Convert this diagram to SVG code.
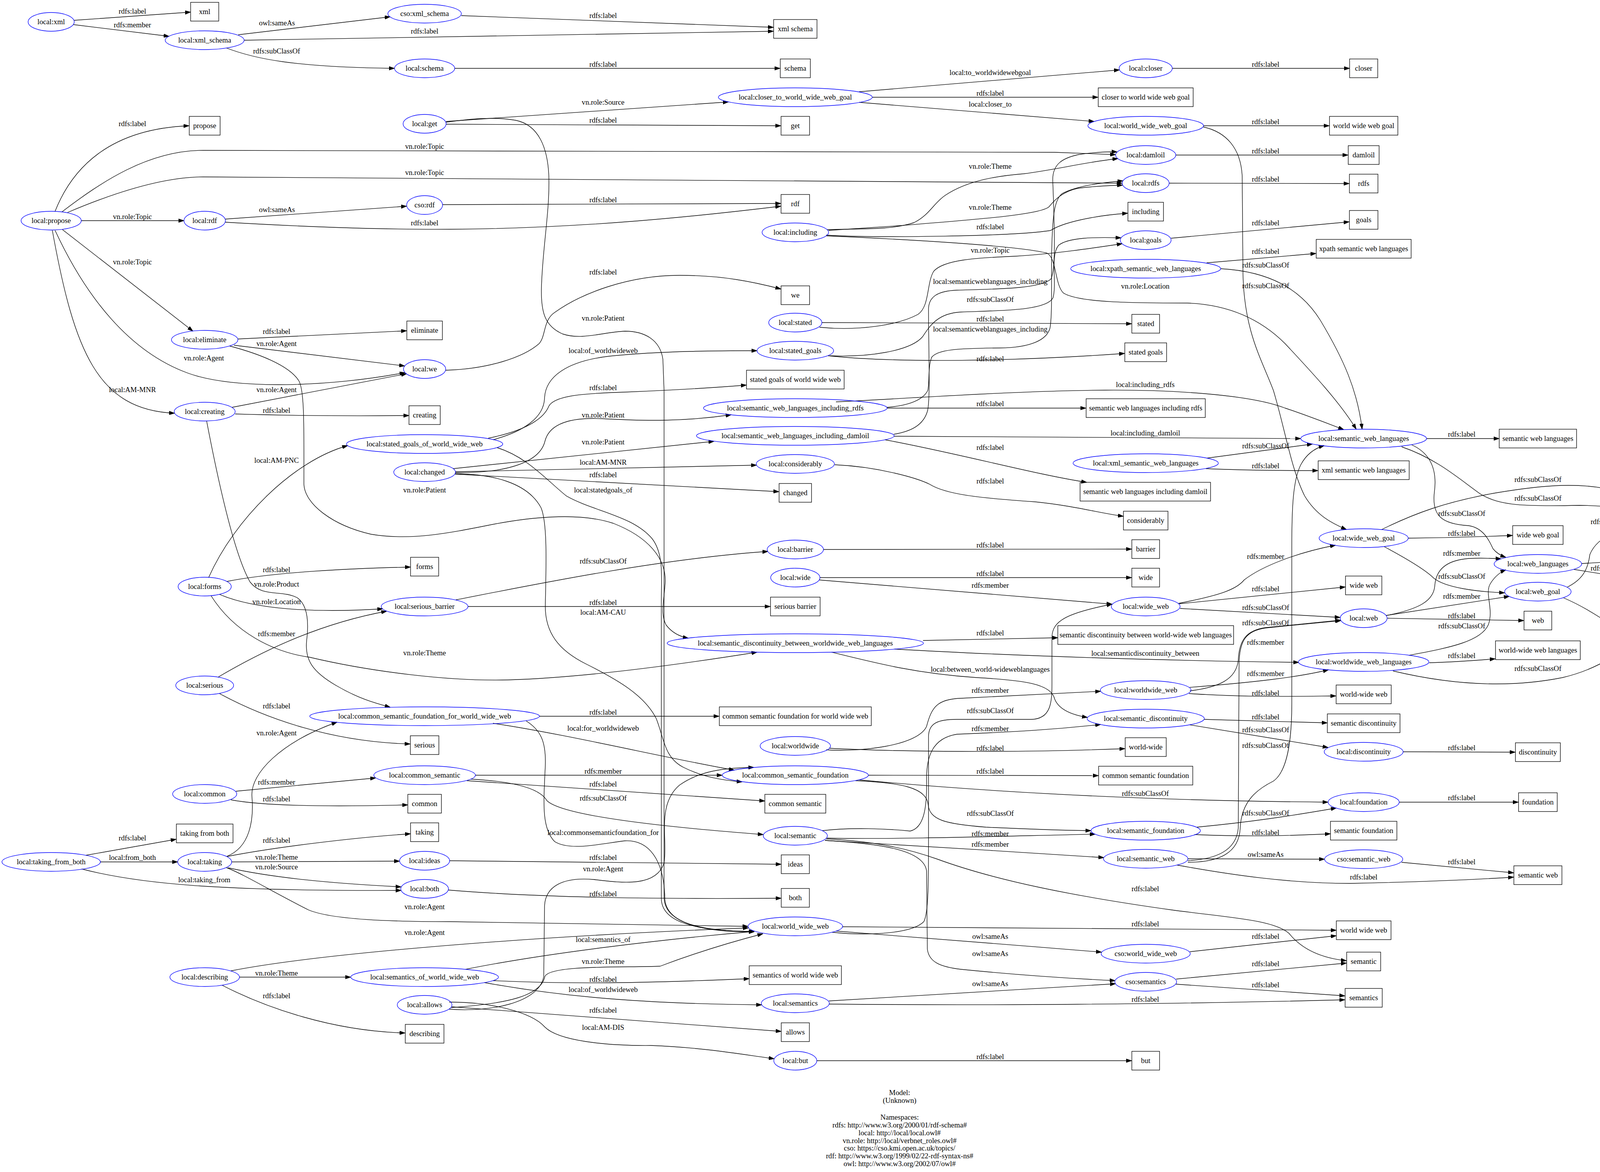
<svg xmlns="http://www.w3.org/2000/svg" width="4608" height="3001" viewBox="0 0 4608 3001">
<defs>
<style>
.n ellipse{fill:none;stroke:#0000ff;stroke-width:1.33}
.b rect{fill:none;stroke:#000;stroke-width:1.33}
text{font-family:"Liberation Serif","Times New Roman",serif;font-size:18.67px;text-anchor:middle;fill:#000}
#edges path{fill:none;stroke:#000;stroke-width:1.33;marker-end:url(#ah)}
</style>
<marker id="ah" viewBox="0 0 14 10" refX="14" refY="5" markerWidth="14" markerHeight="10" markerUnits="userSpaceOnUse" orient="auto"><path d="M0,0.3 L14,5 L0,9.7 Z" fill="#000" stroke="#000" stroke-width="1"/></marker>
</defs>
<rect x="0" y="0" width="4608" height="3001" fill="#fff"/>
<g id="edges">
<g><path d="M190,52 L488,31"/><text x="339" y="35">rdfs:label</text></g>
<g><path d="M188,63 L433,93"/><text x="339" y="70">rdfs:member</text></g>
<g><path d="M610,89 L999,43"/><text x="709" y="65">owl:sameAs</text></g>
<g><path d="M625,103 L1980,80"/><text x="1087" y="86">rdfs:label</text></g>
<g><path d="M1181,40 L1980,70"/><text x="1544" y="46">rdfs:label</text></g>
<g><path d="M580,123 C650,150 750,172 1010,175"/><text x="708" y="137">rdfs:subClassOf</text></g>
<g><path d="M1164,175 L1997,175"/><text x="1544" y="171">rdfs:label</text></g>
<g><path d="M141,541 C185,430 280,330 484,322"/><text x="339" y="323">rdfs:label</text></g>
<g><path d="M158,543 C260,465 380,385 520,385 L2700,390 L2856,396"/><text x="1087" y="381">vn.role:Topic</text></g>
<g><path d="M173,544 C300,490 420,453 520,453 L2873,469"/><text x="1087" y="448">vn.role:Topic</text></g>
<g><path d="M208,565 L471,565"/><text x="339" y="561">vn.role:Topic</text></g>
<g><path d="M577,561 L1041,528"/><text x="709" y="543">owl:sameAs</text></g>
<g><path d="M1133,524 L1999,521"/><text x="1544" y="518">rdfs:label</text></g>
<g><path d="M577,569 C800,582 1000,588 1152,587 C1500,585 1800,552 1999,528"/><text x="1087" y="577">rdfs:label</text></g>
<g><path d="M160,588 L494,848"/><text x="339" y="677">vn.role:Topic</text></g>
<g><path d="M609,868 L1041,847"/><text x="708" y="855">rdfs:label</text></g>
<g><path d="M599,884 L1036,937"/><text x="708" y="886">vn.role:Agent</text></g>
<g><path d="M141,590 C220,760 330,900 480,955 C600,1000 850,990 1037,954"/><text x="522" y="923">vn.role:Agent</text></g>
<g><path d="M134,590 C190,900 250,1050 447,1058"/><text x="339" y="1004">local:AM-MNR</text></g>
<g><path d="M220,2190 L451,2149"/><text x="339" y="2152">rdfs:label</text></g>
<g><path d="M256,2207 L455,2207"/><text x="339" y="2202">local:from_both</text></g>
<g><path d="M209,2225 C350,2262 550,2282 1027,2280"/><text x="523" y="2259">local:taking_from</text></g>
<g><path d="M588,886 C660,905 740,935 765,975 C780,1000 778,1100 778,1240 C780,1290 850,1345 950,1368 C1050,1385 1150,1365 1250,1345 C1350,1325 1480,1310 1570,1340 C1660,1375 1705,1430 1703,1490 C1700,1540 1690,1570 1705,1600 C1720,1620 1740,1630 1762,1634"/><text x="1087" y="1261">vn.role:Patient</text></g>
<g><path d="M594,1043 L1041,957"/><text x="708" y="1004">vn.role:Agent</text></g>
<g><path d="M602,1060 C800,1066 950,1065 1047,1064"/><text x="708" y="1057">rdfs:label</text></g>
<g><path d="M529,1078 C560,1240 600,1420 640,1490 C670,1530 720,1510 760,1530 C790,1550 790,1600 785,1640 C780,1690 800,1720 860,1755 C920,1790 960,1800 999,1811"/><text x="708" y="1502">vn.role:Product</text></g>
<g><path d="M580,1489 C700,1465 900,1455 1051,1452"/><text x="708" y="1465">rdfs:label</text></g>
<g><path d="M534,1479 C600,1330 750,1180 890,1141"/><text x="708" y="1185">local:AM-PNC</text></g>
<g><path d="M562,1522 C650,1560 800,1570 980,1559"/><text x="708" y="1547">vn.role:Location</text></g>
<g><path d="M540,1525 C600,1620 700,1670 793,1683 C950,1720 1150,1745 1300,1741 C1500,1735 1750,1700 1938,1670"/><text x="1087" y="1678">vn.role:Theme</text></g>
<g><path d="M558,1734 C650,1680 800,1600 990,1565"/><text x="708" y="1629">rdfs:member</text></g>
<g><path d="M562,1776 C680,1840 850,1900 1050,1905"/><text x="708" y="1814">rdfs:label</text></g>
<g><path d="M580,2193 C640,2170 650,2100 645,2040 C640,1980 720,1900 863,1849"/><text x="708" y="1883">vn.role:Agent</text></g>
<g><path d="M604,2026 L962,1992"/><text x="708" y="2009">rdfs:member</text></g>
<g><path d="M591,2048 C680,2065 850,2066 1044,2061"/><text x="708" y="2052">rdfs:label</text></g>
<g><path d="M582,2193 C700,2170 900,2145 1051,2135"/><text x="708" y="2158">rdfs:label</text></g>
<g><path d="M593,2207 L1023,2205"/><text x="708" y="2201">vn.role:Theme</text></g>
<g><path d="M584,2222 C700,2248 850,2262 1027,2271"/><text x="708" y="2226">vn.role:Source</text></g>
<g><path d="M580,2222 C620,2236 700,2285 790,2330 C850,2355 1000,2360 1152,2360 L1915,2372"/><text x="1087" y="2328">vn.role:Agent</text></g>
<g><path d="M591,2486 C800,2445 1300,2400 1916,2376"/><text x="1087" y="2394">vn.role:Agent</text></g>
<g><path d="M613,2502 L898,2502"/><text x="708" y="2498">vn.role:Theme</text></g>
<g><path d="M569,2523 C680,2580 850,2640 1037,2645"/><text x="708" y="2556">rdfs:label</text></g>
<g><path d="M1142,311 L1865,261"/><text x="1544" y="268">vn.role:Source</text></g>
<g><path d="M1142,318 L1999,322"/><text x="1544" y="314">rdfs:label</text></g>
<g><path d="M1141,313 C1200,305 1260,298 1320,308 C1380,320 1402,380 1405,450 C1408,540 1388,640 1386,740 C1385,800 1395,835 1440,855 C1490,872 1545,850 1600,848 C1650,848 1690,870 1697,920 L1700,1000 L1700,2300 C1702,2350 1760,2385 1931,2385"/><text x="1544" y="821">vn.role:Patient</text></g>
<g><path d="M1141,948 C1250,945 1340,915 1380,880 C1398,860 1390,820 1420,800 C1490,750 1610,705 1740,705 C1850,705 1930,722 1999,740"/><text x="1544" y="703">rdfs:label</text></g>
<g><path d="M1262,1126 C1340,1105 1392,1070 1394,1020 C1396,965 1450,925 1560,912 C1700,898 1850,898 1938,898"/><text x="1544" y="904">local:of_worldwideweb</text></g>
<g><path d="M1250,1122 C1360,1100 1395,1065 1405,1040 C1420,1012 1500,1007 1600,1004 C1700,1000 1800,995 1911,986"/><text x="1544" y="999">rdfs:label</text></g>
<g><path d="M1272,1146 C1350,1170 1400,1230 1450,1270 C1520,1310 1620,1320 1670,1380 C1700,1420 1693,1480 1693,1540 L1693,2300 C1693,2355 1760,2384 1931,2385"/><text x="1544" y="1261">local:statedgoals_of</text></g>
<g><path d="M1165,1210 C1280,1212 1380,1190 1395,1130 C1405,1090 1450,1068 1540,1072 C1650,1078 1750,1080 1872,1062"/><text x="1544" y="1069">vn.role:Patient</text></g>
<g><path d="M1160,1200 L1828,1130"/><text x="1544" y="1138">vn.role:Patient</text></g>
<g><path d="M1166,1208 L1937,1191"/><text x="1544" y="1190">local:AM-MNR</text></g>
<g><path d="M1165,1214 L1994,1259"/><text x="1544" y="1222">rdfs:label</text></g>
<g><path d="M1166,1213 C1260,1214 1350,1235 1385,1300 C1402,1340 1398,1450 1396,1550 C1395,1620 1430,1665 1500,1700 C1580,1740 1650,1780 1680,1840 C1700,1890 1700,1940 1750,1965 C1800,1990 1850,1998 1900,2002"/><text x="1544" y="1574">local:AM-CAU</text></g>
<g><path d="M1167,1536 C1400,1490 1700,1430 1966,1412"/><text x="1544" y="1443">rdfs:subClassOf</text></g>
<g><path d="M1198,1553 L1972,1553"/><text x="1544" y="1549">rdfs:label</text></g>
<g><path d="M1381,1834 L1841,1834"/><text x="1544" y="1830">rdfs:label</text></g>
<g><path d="M1262,1852 C1450,1880 1700,1940 1880,1972"/><text x="1544" y="1871">local:for_worldwideweb</text></g>
<g><path d="M1347,1846 C1385,1870 1398,1900 1396,1960 C1392,2050 1385,2120 1420,2155 C1460,2180 1540,2160 1600,2153 C1660,2150 1700,2200 1702,2300 C1704,2365 1800,2387 1931,2386"/><text x="1544" y="2138">local:commonsemanticfoundation_for</text></g>
<g><path d="M1217,1985 L1849,1985"/><text x="1544" y="1981">rdfs:member</text></g>
<g><path d="M1195,1999 L1958,2051"/><text x="1544" y="2014">rdfs:label</text></g>
<g><path d="M1205,1995 C1300,2000 1380,2015 1400,2050 C1430,2080 1600,2110 1954,2137"/><text x="1544" y="2050">rdfs:subClassOf</text></g>
<g><path d="M1151,2204 L2000,2213"/><text x="1544" y="2202">rdfs:label</text></g>
<g><path d="M1148,2279 C1400,2300 1700,2302 2000,2300"/><text x="1544" y="2295">rdfs:label</text></g>
<g><path d="M1192,2482 C1400,2440 1700,2405 1931,2385"/><text x="1544" y="2412">local:semantics_of</text></g>
<g><path d="M1262,2511 C1500,2522 1700,2515 1918,2506"/><text x="1544" y="2514">rdfs:label</text></g>
<g><path d="M1240,2516 C1400,2545 1600,2570 1950,2573"/><text x="1544" y="2540">local:of_worldwideweb</text></g>
<g><path d="M1155,2580 C1300,2570 1385,2550 1395,2500 C1410,2470 1600,2478 1690,2474 C1780,2440 1880,2410 1953,2391"/><text x="1544" y="2468">vn.role:Theme</text></g>
<g><path d="M1150,2584 C1250,2592 1380,2570 1392,2500 L1394,2320 C1396,2270 1440,2245 1520,2252 C1600,2262 1680,2270 1700,2210 C1710,2150 1680,2060 1740,2010 C1790,1975 1850,1966 1930,1965"/><text x="1544" y="2231">vn.role:Agent</text></g>
<g><path d="M1157,2578 L2000,2641"/><text x="1544" y="2593">rdfs:label</text></g>
<g><path d="M1150,2566 C1250,2565 1360,2590 1395,2630 C1430,2665 1550,2678 1666,2677 C1800,2682 1900,2700 1982,2711"/><text x="1544" y="2637">local:AM-DIS</text></g>
<g><path d="M2199,235 L2866,179"/><text x="2535" y="192">local:to_worldwidewebgoal</text></g>
<g><path d="M2233,249 L2811,249"/><text x="2535" y="245">rdfs:label</text></g>
<g><path d="M2199,262 L2801,311"/><text x="2535" y="273">local:closer_to</text></g>
<g><path d="M2118,588 C2200,585 2280,590 2340,570 C2380,550 2390,520 2420,500 C2480,460 2560,450 2620,445 C2700,435 2780,415 2862,406"/><text x="2535" y="432">vn.role:Theme</text></g>
<g><path d="M2121,590 L2300,578 C2500,562 2660,550 2685,530 C2700,512 2720,490 2760,482 C2800,477 2840,475 2874,474"/><text x="2535" y="537">vn.role:Theme</text></g>
<g><path d="M2115,602 C2250,610 2600,605 2690,590 C2720,570 2800,552 2887,546"/><text x="2535" y="587">rdfs:label</text></g>
<g><path d="M2116,604 C2300,612 2600,628 2680,648 C2705,660 2700,728 2722,750 C2760,775 2900,776 3040,776 C3150,780 3230,820 3290,880 C3360,955 3430,1030 3472,1099"/><text x="2932" y="739">vn.role:Location</text></g>
<g><path d="M2104,826 L2897,829"/><text x="2535" y="823">rdfs:label</text></g>
<g><path d="M2098,838 C2200,848 2300,832 2350,805 C2380,785 2372,725 2390,695 C2415,665 2500,660 2600,656 C2700,650 2800,635 2873,624"/><text x="2535" y="647">vn.role:Topic</text></g>
<g><path d="M2125,911 C2220,915 2330,900 2362,862 C2380,835 2400,802 2460,799 C2560,795 2680,796 2696,762 C2706,720 2688,655 2710,628 C2735,608 2800,607 2870,609"/><text x="2535" y="773">rdfs:subClassOf</text></g>
<g><path d="M2120,911 C2300,930 2600,925 2879,905"/><text x="2535" y="925">rdfs:label</text></g>
<g><path d="M2271,1045 L2780,1045"/><text x="2535" y="1040">rdfs:label</text></g>
<g><path d="M2140,1029 C2300,1022 2600,1000 2830,999 C3000,998 3200,1010 3290,1045 C3350,1065 3400,1085 3440,1100"/><text x="2932" y="991">local:including_rdfs</text></g>
<g><path d="M2288,1112 C2330,1105 2365,1090 2375,1050 C2382,1010 2377,900 2377,790 C2378,760 2400,745 2450,743 C2550,740 2660,740 2690,715 C2705,690 2698,550 2695,460 C2695,420 2720,405 2760,396 C2800,390 2835,388 2860,389"/><text x="2535" y="727">local:semanticweblanguages_including</text></g>
<g><path d="M2271,1043 C2310,1040 2360,1030 2375,1000 C2380,980 2375,940 2385,915 C2400,895 2450,892 2560,891 C2640,890 2680,870 2688,840 C2695,800 2690,700 2693,620 C2695,560 2698,510 2720,495 C2760,475 2820,468 2875,463"/><text x="2535" y="849">local:semanticweblanguages_including</text></g>
<g><path d="M2289,1117 L3330,1123"/><text x="2932" y="1115">local:including_damloil</text></g>
<g><path d="M2265,1126 C2450,1160 2650,1215 2782,1235"/><text x="2535" y="1152">rdfs:label</text></g>
<g><path d="M2137,1190 C2250,1195 2350,1225 2380,1240 C2420,1265 2500,1275 2650,1285 C2750,1295 2820,1315 2876,1322"/><text x="2535" y="1238">rdfs:label</text></g>
<g><path d="M2108,1407 L2897,1406"/><text x="2535" y="1402">rdfs:label</text></g>
<g><path d="M2099,1479 L2897,1479"/><text x="2535" y="1475">rdfs:label</text></g>
<g><path d="M2097,1485 L2847,1547"/><text x="2535" y="1505">rdfs:member</text></g>
<g><path d="M2363,1640 L2708,1633"/><text x="2535" y="1627">rdfs:label</text></g>
<g><path d="M2290,1662 C2600,1680 3000,1692 3325,1696"/><text x="2932" y="1679">local:semanticdiscontinuity_between</text></g>
<g><path d="M2129,1670 C2250,1700 2350,1725 2500,1735 C2620,1742 2690,1750 2700,1790 C2710,1815 2740,1830 2784,1837"/><text x="2535" y="1720">local:between_world-wideweblanguages</text></g>
<g><path d="M2123,1916 C2300,1925 2600,1928 2880,1917"/><text x="2535" y="1922">rdfs:label</text></g>
<g><path d="M2115,1920 C2200,1926 2350,1910 2372,1860 C2385,1810 2400,1790 2460,1788 C2600,1782 2720,1776 2818,1770"/><text x="2535" y="1774">rdfs:member</text></g>
<g><path d="M2223,1985 L2812,1986"/><text x="2535" y="1981">rdfs:label</text></g>
<g><path d="M2200,1997 C2500,2025 2900,2050 3400,2054"/><text x="2932" y="2038">rdfs:subClassOf</text></g>
<g><path d="M2190,1999 C2300,2004 2372,2015 2376,2060 C2380,2100 2420,2110 2524,2118 C2650,2124 2720,2126 2793,2127"/><text x="2535" y="2089">rdfs:subClassOf</text></g>
<g><path d="M2117,2146 C2300,2150 2600,2140 2804,2136"/><text x="2535" y="2141">rdfs:member</text></g>
<g><path d="M2112,2152 C2300,2165 2600,2180 2826,2196"/><text x="2535" y="2168">rdfs:member</text></g>
<g><path d="M2105,2127 C2180,2118 2270,2122 2330,2128 C2365,2120 2373,2070 2372,2000 C2371,1940 2385,1890 2450,1880 C2600,1874 2700,1868 2818,1855"/><text x="2535" y="1872">rdfs:member</text></g>
<g><path d="M2115,2148 C2250,2155 2330,2175 2400,2200 C2550,2255 2750,2295 3000,2330 C3150,2350 3260,2355 3300,2390 C3340,2440 3400,2455 3447,2460"/><text x="2932" y="2282">rdfs:label</text></g>
<g><path d="M2112,2152 C2250,2160 2365,2175 2372,2230 L2374,2430 C2378,2465 2410,2476 2460,2482 C2600,2496 2750,2506 2855,2511"/><text x="2535" y="2448">owl:sameAs</text></g>
<g><path d="M2122,2563 L2856,2519"/><text x="2535" y="2525">owl:sameAs</text></g>
<g><path d="M2123,2571 C2500,2575 3000,2572 3443,2560"/><text x="2932" y="2565">rdfs:label</text></g>
<g><path d="M2157,2373 L3421,2382"/><text x="2932" y="2372">rdfs:label</text></g>
<g><path d="M2140,2384 C2400,2405 2600,2420 2820,2438"/><text x="2535" y="2404">owl:sameAs</text></g>
<g><path d="M2130,2387 C2200,2395 2330,2395 2365,2360 C2378,2335 2377,2250 2377,2100 L2377,1885 C2378,1852 2400,1842 2450,1842 L2640,1842 C2690,1841 2693,1800 2693,1750 L2693,1630 C2695,1590 2730,1570 2847,1547"/><text x="2535" y="1826">rdfs:subClassOf</text></g>
<g><path d="M2091,2716 L2897,2716"/><text x="2535" y="2712">rdfs:label</text></g>
<g><path d="M3001,175 L3455,175"/><text x="3240" y="171">rdfs:label</text></g>
<g><path d="M3081,322 L3403,322"/><text x="3240" y="318">rdfs:label</text></g>
<g><path d="M3080,325 C3140,338 3176,380 3180,450 L3182,700 C3185,850 3230,920 3260,1000 C3290,1100 3305,1200 3340,1270 C3370,1320 3410,1340 3447,1356"/><text x="3240" y="738">rdfs:subClassOf</text></g>
<g><path d="M3010,397 L3451,397"/><text x="3240" y="393">rdfs:label</text></g>
<g><path d="M2993,469 L3454,470"/><text x="3240" y="465">rdfs:label</text></g>
<g><path d="M2998,610 L3454,568"/><text x="3240" y="577">rdfs:label</text></g>
<g><path d="M3089,673 L3369,649"/><text x="3240" y="650">rdfs:label</text></g>
<g><path d="M3125,688 C3250,695 3330,740 3380,820 C3440,920 3475,1000 3487,1099"/><text x="3240" y="685">rdfs:subClassOf</text></g>
<g><path d="M3090,1173 L3360,1137"/><text x="3240" y="1148">rdfs:subClassOf</text></g>
<g><path d="M3087,1200 C3200,1205 3300,1205 3374,1205"/><text x="3240" y="1199">rdfs:label</text></g>
<g><path d="M3017,1545 C3120,1525 3165,1510 3185,1485 C3230,1450 3320,1415 3419,1396"/><text x="3240" y="1431">rdfs:member</text></g>
<g><path d="M3019,1546 L3444,1503"/><text x="3240" y="1514">rdfs:label</text></g>
<g><path d="M3021,1558 L3431,1581"/><text x="3240" y="1562">rdfs:subClassOf</text></g>
<g><path d="M3046,1760 C3200,1748 3320,1735 3401,1715"/><text x="3240" y="1731">rdfs:member</text></g>
<g><path d="M3044,1776 C3200,1786 3320,1783 3420,1782"/><text x="3240" y="1781">rdfs:label</text></g>
<g><path d="M3046,1769 C3120,1760 3165,1740 3170,1690 C3172,1640 3190,1614 3240,1607 C3320,1599 3380,1593 3432,1588"/><text x="3240" y="1601">rdfs:subClassOf</text></g>
<g><path d="M3082,1842 L3398,1851"/><text x="3240" y="1842">rdfs:label</text></g>
<g><path d="M3046,1856 L3400,1914"/><text x="3240" y="1875">rdfs:subClassOf</text></g>
<g><path d="M3064,2118 C3200,2105 3300,2090 3421,2069"/><text x="3240" y="2088">rdfs:subClassOf</text></g>
<g><path d="M3058,2137 C3200,2143 3300,2140 3406,2135"/><text x="3240" y="2138">rdfs:label</text></g>
<g><path d="M3041,2199 L3391,2200"/><text x="3240" y="2194">owl:sameAs</text></g>
<g><path d="M3013,2215 C3150,2240 3300,2262 3456,2262 C3650,2258 3780,2252 3875,2246"/><text x="3491" y="2252">rdfs:label</text></g>
<g><path d="M3041,2204 C3110,2200 3165,2180 3170,2120 L3172,1700 C3173,1640 3190,1615 3240,1608 C3320,1600 3380,1594 3433,1589"/><text x="3240" y="1915">rdfs:subClassOf</text></g>
<g><path d="M3041,2208 C3120,2208 3172,2185 3175,2120 C3178,2050 3220,2020 3260,2000 C3295,1975 3307,1900 3307,1800 L3307,1400 C3307,1300 3310,1230 3330,1190 C3345,1162 3365,1148 3390,1141"/><text x="3240" y="1651">rdfs:member</text></g>
<g><path d="M3046,2437 L3421,2396"/><text x="3240" y="2404">rdfs:label</text></g>
<g><path d="M3011,2507 L3447,2466"/><text x="3240" y="2474">rdfs:label</text></g>
<g><path d="M3010,2520 L3443,2550"/><text x="3240" y="2528">rdfs:label</text></g>
<g><path d="M3652,1123 L3838,1123"/><text x="3742" y="1118">rdfs:label</text></g>
<g><path d="M3614,1139 C3660,1160 3680,1200 3672,1260 C3665,1320 3690,1342 3760,1346 C3800,1352 3815,1390 3822,1405 C3830,1415 3840,1422 3855,1427"/><text x="3742" y="1321">rdfs:subClassOf</text></g>
<g><path d="M3588,1144 C3680,1175 3740,1230 3790,1265 C3840,1295 3900,1297 4044,1294 C4150,1295 4200,1310 4205,1350 C4208,1400 4200,1450 4237,1487"/><text x="3937" y="1282">rdfs:subClassOf</text></g>
<g><path d="M3605,1378 C3700,1377 3800,1374 3872,1371"/><text x="3742" y="1372">rdfs:label</text></g>
<g><path d="M3537,1356 C3620,1315 3700,1285 3830,1262 C3950,1242 4050,1232 4150,1260 C4200,1275 4240,1290 4272,1312"/><text x="3937" y="1234">rdfs:subClassOf</text></g>
<g><path d="M3544,1400 C3600,1430 3650,1460 3670,1480 C3700,1505 3780,1515 3852,1518"/><text x="3742" y="1482">rdfs:subClassOf</text></g>
<g><path d="M3550,1576 C3630,1560 3670,1540 3673,1500 C3676,1460 3700,1435 3760,1430 C3800,1428 3825,1430 3843,1431"/><text x="3742" y="1423">rdfs:member</text></g>
<g><path d="M3548,1576 L3864,1527"/><text x="3742" y="1533">rdfs:member</text></g>
<g><path d="M3552,1583 L3901,1589"/><text x="3742" y="1583">rdfs:label</text></g>
<g><path d="M3659,1697 C3730,1695 3790,1690 3828,1687"/><text x="3742" y="1685">rdfs:label</text></g>
<g><path d="M3607,1678 C3700,1660 3790,1645 3810,1600 C3825,1560 3800,1520 3815,1495 C3825,1478 3840,1465 3855,1459"/><text x="3742" y="1609">rdfs:subClassOf</text></g>
<g><path d="M3566,1718 C3700,1750 3850,1765 4000,1735 C4150,1700 4230,1600 4286,1526"/><text x="3937" y="1718">rdfs:subClassOf</text></g>
<g><path d="M3592,1925 L3879,1926"/><text x="3742" y="1921">rdfs:label</text></g>
<g><path d="M3582,2054 L3887,2054"/><text x="3742" y="2049">rdfs:label</text></g>
<g><path d="M3588,2208 L3875,2235"/><text x="3742" y="2213">rdfs:label</text></g>
<g><path d="M4049,1443 L4238,1432"/><text x="4132" y="1429">rdfs:label</text></g>
<g><path d="M4029,1458 L4228,1490"/><text x="4132" y="1461">rdfs:subClassOf</text></g>
<g><path d="M4011,1504 C4050,1485 4065,1460 4070,1420 C4090,1370 4160,1345 4244,1337"/><text x="4132" y="1342">rdfs:subClassOf</text></g>
<g><path d="M4003,1531 C4060,1555 4130,1600 4190,1650 C4230,1690 4260,1720 4282,1750"/><text x="4132" y="1567">rdfs:label</text></g>
<g><path d="M4363,1333 L4519,1333"/><text x="4449" y="1328">rdfs:label</text></g>
<g><path d="M4391,1502 L4507,1502"/><text x="4449" y="1498">rdfs:label</text></g>
</g>
<g id="nodes">
<g id="n1" class="n"><ellipse cx="131" cy="56" rx="59" ry="24"/><text x="131" y="62">local:xml</text></g>
<g id="n2" class="n"><ellipse cx="524" cy="103" rx="101" ry="24"/><text x="524" y="109">local:xml_schema</text></g>
<g id="n3" class="n"><ellipse cx="1087" cy="35" rx="94" ry="24"/><text x="1087" y="41">cso:xml_schema</text></g>
<g id="n4" class="n"><ellipse cx="1087" cy="175" rx="77" ry="24"/><text x="1087" y="181">local:schema</text></g>
<g id="n5" class="n"><ellipse cx="1087" cy="317" rx="55" ry="24"/><text x="1087" y="323">local:get</text></g>
<g id="n6" class="n"><ellipse cx="131" cy="565" rx="77" ry="24"/><text x="131" y="571">local:propose</text></g>
<g id="n7" class="n"><ellipse cx="524" cy="565" rx="53" ry="24"/><text x="524" y="571">local:rdf</text></g>
<g id="n8" class="n"><ellipse cx="1087" cy="525" rx="46" ry="24"/><text x="1087" y="531">cso:rdf</text></g>
<g id="n9" class="n"><ellipse cx="524" cy="870" rx="85" ry="24"/><text x="524" y="876">local:eliminate</text></g>
<g id="n10" class="n"><ellipse cx="1087" cy="945" rx="54" ry="24"/><text x="1087" y="951">local:we</text></g>
<g id="n11" class="n"><ellipse cx="524" cy="1054" rx="78" ry="24"/><text x="524" y="1060">local:creating</text></g>
<g id="n12" class="n"><ellipse cx="1087" cy="1137" rx="200" ry="24"/><text x="1087" y="1143">local:stated_goals_of_world_wide_web</text></g>
<g id="n13" class="n"><ellipse cx="1087" cy="1209" rx="79" ry="24"/><text x="1087" y="1215">local:changed</text></g>
<g id="n14" class="n"><ellipse cx="524" cy="1502" rx="68" ry="24"/><text x="524" y="1508">local:forms</text></g>
<g id="n15" class="n"><ellipse cx="1087" cy="1553" rx="111" ry="24"/><text x="1087" y="1559">local:serious_barrier</text></g>
<g id="n16" class="n"><ellipse cx="524" cy="1755" rx="74" ry="24"/><text x="524" y="1761">local:serious</text></g>
<g id="n17" class="n"><ellipse cx="1087" cy="1834" rx="294" ry="24"/><text x="1087" y="1840">local:common_semantic_foundation_for_world_wide_web</text></g>
<g id="n18" class="n"><ellipse cx="1087" cy="1985" rx="130" ry="24"/><text x="1087" y="1991">local:common_semantic</text></g>
<g id="n19" class="n"><ellipse cx="524" cy="2033" rx="82" ry="24"/><text x="524" y="2039">local:common</text></g>
<g id="n20" class="n"><ellipse cx="131" cy="2207" rx="126" ry="24"/><text x="131" y="2213">local:taking_from_both</text></g>
<g id="n21" class="n"><ellipse cx="524" cy="2207" rx="69" ry="24"/><text x="524" y="2213">local:taking</text></g>
<g id="n22" class="n"><ellipse cx="1087" cy="2204" rx="64" ry="24"/><text x="1087" y="2210">local:ideas</text></g>
<g id="n23" class="n"><ellipse cx="1087" cy="2276" rx="61" ry="24"/><text x="1087" y="2282">local:both</text></g>
<g id="n24" class="n"><ellipse cx="524" cy="2502" rx="89" ry="24"/><text x="524" y="2508">local:describing</text></g>
<g id="n25" class="n"><ellipse cx="1087" cy="2502" rx="189" ry="24"/><text x="1087" y="2508">local:semantics_of_world_wide_web</text></g>
<g id="n26" class="n"><ellipse cx="1087" cy="2573" rx="70" ry="24"/><text x="1087" y="2579">local:allows</text></g>
<g id="n27" class="n"><ellipse cx="2036" cy="249" rx="197" ry="24"/><text x="2036" y="255">local:closer_to_world_wide_web_goal</text></g>
<g id="n28" class="n"><ellipse cx="2036" cy="595" rx="85" ry="24"/><text x="2036" y="601">local:including</text></g>
<g id="n29" class="n"><ellipse cx="2036" cy="826" rx="68" ry="24"/><text x="2036" y="832">local:stated</text></g>
<g id="n30" class="n"><ellipse cx="2036" cy="898" rx="98" ry="24"/><text x="2036" y="904">local:stated_goals</text></g>
<g id="n31" class="n"><ellipse cx="2036" cy="1045" rx="235" ry="24"/><text x="2036" y="1051">local:semantic_web_languages_including_rdfs</text></g>
<g id="n32" class="n"><ellipse cx="2036" cy="1116" rx="253" ry="24"/><text x="2036" y="1122">local:semantic_web_languages_including_damloil</text></g>
<g id="n33" class="n"><ellipse cx="2036" cy="1188" rx="100" ry="24"/><text x="2036" y="1194">local:considerably</text></g>
<g id="n34" class="n"><ellipse cx="2036" cy="1407" rx="72" ry="24"/><text x="2036" y="1413">local:barrier</text></g>
<g id="n35" class="n"><ellipse cx="2036" cy="1479" rx="63" ry="24"/><text x="2036" y="1485">local:wide</text></g>
<g id="n36" class="n"><ellipse cx="2036" cy="1647" rx="328" ry="24"/><text x="2036" y="1653">local:semantic_discontinuity_between_worldwide_web_languages</text></g>
<g id="n37" class="n"><ellipse cx="2036" cy="1910" rx="90" ry="24"/><text x="2036" y="1916">local:worldwide</text></g>
<g id="n38" class="n"><ellipse cx="2036" cy="1985" rx="187" ry="24"/><text x="2036" y="1991">local:common_semantic_foundation</text></g>
<g id="n39" class="n"><ellipse cx="2036" cy="2140" rx="82" ry="24"/><text x="2036" y="2146">local:semantic</text></g>
<g id="n40" class="n"><ellipse cx="2036" cy="2372" rx="121" ry="24"/><text x="2036" y="2378">local:world_wide_web</text></g>
<g id="n41" class="n"><ellipse cx="2036" cy="2569" rx="87" ry="24"/><text x="2036" y="2575">local:semantics</text></g>
<g id="n42" class="n"><ellipse cx="2036" cy="2716" rx="55" ry="24"/><text x="2036" y="2722">local:but</text></g>
<g id="n43" class="n"><ellipse cx="2933" cy="175" rx="68" ry="24"/><text x="2933" y="181">local:closer</text></g>
<g id="n44" class="n"><ellipse cx="2933" cy="322" rx="148" ry="24"/><text x="2933" y="328">local:world_wide_web_goal</text></g>
<g id="n45" class="n"><ellipse cx="2933" cy="397" rx="77" ry="24"/><text x="2933" y="403">local:damloil</text></g>
<g id="n46" class="n"><ellipse cx="2933" cy="469" rx="60" ry="24"/><text x="2933" y="475">local:rdfs</text></g>
<g id="n47" class="n"><ellipse cx="2933" cy="615" rx="65" ry="24"/><text x="2933" y="621">local:goals</text></g>
<g id="n48" class="n"><ellipse cx="2933" cy="688" rx="192" ry="24"/><text x="2933" y="694">local:xpath_semantic_web_languages</text></g>
<g id="n49" class="n"><ellipse cx="2933" cy="1186" rx="186" ry="24"/><text x="2933" y="1192">local:xml_semantic_web_languages</text></g>
<g id="n50" class="n"><ellipse cx="2933" cy="1553" rx="88" ry="24"/><text x="2933" y="1559">local:wide_web</text></g>
<g id="n51" class="n"><ellipse cx="2933" cy="1767" rx="116" ry="24"/><text x="2933" y="1773">local:worldwide_web</text></g>
<g id="n52" class="n"><ellipse cx="2933" cy="1840" rx="150" ry="24"/><text x="2933" y="1846">local:semantic_discontinuity</text></g>
<g id="n53" class="n"><ellipse cx="2933" cy="2127" rx="140" ry="24"/><text x="2933" y="2133">local:semantic_foundation</text></g>
<g id="n54" class="n"><ellipse cx="2933" cy="2199" rx="108" ry="24"/><text x="2933" y="2205">local:semantic_web</text></g>
<g id="n55" class="n"><ellipse cx="2933" cy="2442" rx="114" ry="24"/><text x="2933" y="2448">cso:world_wide_web</text></g>
<g id="n56" class="n"><ellipse cx="2933" cy="2514" rx="79" ry="24"/><text x="2933" y="2520">cso:semantics</text></g>
<g id="n57" class="n"><ellipse cx="3491" cy="1123" rx="161" ry="24"/><text x="3491" y="1129">local:semantic_web_languages</text></g>
<g id="n58" class="n"><ellipse cx="3491" cy="1378" rx="114" ry="24"/><text x="3491" y="1384">local:wide_web_goal</text></g>
<g id="n59" class="n"><ellipse cx="3491" cy="1583" rx="60" ry="24"/><text x="3491" y="1589">local:web</text></g>
<g id="n60" class="n"><ellipse cx="3491" cy="1695" rx="167" ry="24"/><text x="3491" y="1701">local:worldwide_web_languages</text></g>
<g id="n61" class="n"><ellipse cx="3491" cy="1925" rx="101" ry="24"/><text x="3491" y="1931">local:discontinuity</text></g>
<g id="n62" class="n"><ellipse cx="3491" cy="2054" rx="91" ry="24"/><text x="3491" y="2060">local:foundation</text></g>
<g id="n63" class="n"><ellipse cx="3491" cy="2200" rx="100" ry="24"/><text x="3491" y="2206">cso:semantic_web</text></g>
<g id="n64" class="n"><ellipse cx="3937" cy="1444" rx="112" ry="24"/><text x="3937" y="1450">local:web_languages</text></g>
<g id="n65" class="n"><ellipse cx="3937" cy="1515" rx="85" ry="24"/><text x="3937" y="1521">local:web_goal</text></g>
<g id="n66" class="n"><ellipse cx="4303" cy="1333" rx="60" ry="24"/><text x="4303" y="1339">local:goal</text></g>
<g id="n67" class="n"><ellipse cx="4303" cy="1502" rx="88" ry="24"/><text x="4303" y="1508">local:languages</text></g>
<g id="b1" class="b"><rect x="488" y="6" width="72" height="48"/><text x="524" y="36">xml</text></g>
<g id="b2" class="b"><rect x="1980.5" y="50" width="111" height="48"/><text x="2036" y="80">xml schema</text></g>
<g id="b3" class="b"><rect x="1997.5" y="151" width="77" height="48"/><text x="2036" y="181">schema</text></g>
<g id="b4" class="b"><rect x="484.5" y="298" width="79" height="48"/><text x="524" y="328">propose</text></g>
<g id="b5" class="b"><rect x="1999.5" y="298" width="73" height="48"/><text x="2036" y="328">get</text></g>
<g id="b6" class="b"><rect x="1999.5" y="498" width="73" height="48"/><text x="2036" y="528">rdf</text></g>
<g id="b7" class="b"><rect x="1041.5" y="822" width="91" height="48"/><text x="1087" y="852">eliminate</text></g>
<g id="b8" class="b"><rect x="1999.5" y="732" width="73" height="48"/><text x="2036" y="762">we</text></g>
<g id="b9" class="b"><rect x="1911" y="948" width="250" height="48"/><text x="2036" y="978">stated goals of world wide web</text></g>
<g id="b10" class="b"><rect x="1047" y="1039" width="80" height="48"/><text x="1087" y="1069">creating</text></g>
<g id="b11" class="b"><rect x="1994.5" y="1238" width="83" height="48"/><text x="2036" y="1268">changed</text></g>
<g id="b12" class="b"><rect x="1051" y="1427" width="72" height="48"/><text x="1087" y="1457">forms</text></g>
<g id="b13" class="b"><rect x="1972.5" y="1529" width="127" height="48"/><text x="2036" y="1559">serious barrier</text></g>
<g id="b14" class="b"><rect x="1050.5" y="1884" width="73" height="48"/><text x="1087" y="1914">serious</text></g>
<g id="b15" class="b"><rect x="1841.5" y="1810" width="389" height="48"/><text x="2036" y="1840">common semantic foundation for world wide web</text></g>
<g id="b16" class="b"><rect x="1044" y="2034" width="86" height="48"/><text x="1087" y="2064">common</text></g>
<g id="b17" class="b"><rect x="451.5" y="2110" width="145" height="48"/><text x="524" y="2140">taking from both</text></g>
<g id="b18" class="b"><rect x="1051" y="2107" width="72" height="48"/><text x="1087" y="2137">taking</text></g>
<g id="b19" class="b"><rect x="1958" y="2034" width="156" height="48"/><text x="2036" y="2064">common semantic</text></g>
<g id="b20" class="b"><rect x="2000" y="2189" width="72" height="48"/><text x="2036" y="2219">ideas</text></g>
<g id="b21" class="b"><rect x="2000" y="2275" width="72" height="48"/><text x="2036" y="2305">both</text></g>
<g id="b22" class="b"><rect x="1037.5" y="2623" width="99" height="48"/><text x="1087" y="2653">describing</text></g>
<g id="b23" class="b"><rect x="1918" y="2473" width="236" height="48"/><text x="2036" y="2503">semantics of world wide web</text></g>
<g id="b24" class="b"><rect x="2000" y="2619" width="72" height="48"/><text x="2036" y="2649">allows</text></g>
<g id="b25" class="b"><rect x="3455" y="151" width="72" height="48"/><text x="3491" y="181">closer</text></g>
<g id="b26" class="b"><rect x="2811.5" y="225" width="243" height="48"/><text x="2933" y="255">closer to world wide web goal</text></g>
<g id="b27" class="b"><rect x="3403.5" y="298" width="175" height="48"/><text x="3491" y="328">world wide web goal</text></g>
<g id="b28" class="b"><rect x="3451.5" y="373" width="79" height="48"/><text x="3491" y="403">damloil</text></g>
<g id="b29" class="b"><rect x="3454.5" y="446" width="73" height="48"/><text x="3491" y="476">rdfs</text></g>
<g id="b30" class="b"><rect x="2887.5" y="518" width="91" height="48"/><text x="2933" y="548">including</text></g>
<g id="b31" class="b"><rect x="3454.5" y="539" width="73" height="48"/><text x="3491" y="569">goals</text></g>
<g id="b32" class="b"><rect x="3369.5" y="613" width="243" height="48"/><text x="3491" y="643">xpath semantic web languages</text></g>
<g id="b33" class="b"><rect x="2897.5" y="805" width="71" height="48"/><text x="2933" y="835">stated</text></g>
<g id="b34" class="b"><rect x="2879.5" y="878" width="107" height="48"/><text x="2933" y="908">stated goals</text></g>
<g id="b35" class="b"><rect x="2780.5" y="1021" width="305" height="48"/><text x="2933" y="1051">semantic web languages including rdfs</text></g>
<g id="b36" class="b"><rect x="2765" y="1235" width="334" height="48"/><text x="2932" y="1265">semantic web languages including damloil</text></g>
<g id="b37" class="b"><rect x="2876" y="1309" width="114" height="48"/><text x="2933" y="1339">considerably</text></g>
<g id="b38" class="b"><rect x="2897.5" y="1382" width="71" height="48"/><text x="2933" y="1412">barrier</text></g>
<g id="b39" class="b"><rect x="2897.5" y="1455" width="71" height="48"/><text x="2933" y="1485">wide</text></g>
<g id="b40" class="b"><rect x="2708" y="1602" width="450" height="48"/><text x="2933" y="1632">semantic discontinuity between world-wide web languages</text></g>
<g id="b41" class="b"><rect x="2880.5" y="1889" width="105" height="48"/><text x="2933" y="1919">world-wide</text></g>
<g id="b42" class="b"><rect x="2812.5" y="1962" width="241" height="48"/><text x="2933" y="1992">common semantic foundation</text></g>
<g id="b43" class="b"><rect x="3421" y="2358" width="140" height="48"/><text x="3491" y="2388">world wide web</text></g>
<g id="b44" class="b"><rect x="3447.5" y="2438" width="87" height="48"/><text x="3491" y="2468">semantic</text></g>
<g id="b45" class="b"><rect x="3443.5" y="2531" width="95" height="48"/><text x="3491" y="2561">semantics</text></g>
<g id="b46" class="b"><rect x="2897.5" y="2692" width="71" height="48"/><text x="2933" y="2722">but</text></g>
<g id="b47" class="b"><rect x="3838" y="1099" width="198" height="48"/><text x="3937" y="1129">semantic web languages</text></g>
<g id="b48" class="b"><rect x="3374.5" y="1180" width="233" height="48"/><text x="3491" y="1210">xml semantic web languages</text></g>
<g id="b49" class="b"><rect x="3872.5" y="1346" width="129" height="48"/><text x="3937" y="1376">wide web goal</text></g>
<g id="b50" class="b"><rect x="3444.5" y="1475" width="93" height="48"/><text x="3491" y="1505">wide web</text></g>
<g id="b51" class="b"><rect x="3901.5" y="1565" width="71" height="48"/><text x="3937" y="1595">web</text></g>
<g id="b52" class="b"><rect x="3828.5" y="1641" width="217" height="48"/><text x="3937" y="1671">world-wide web languages</text></g>
<g id="b53" class="b"><rect x="3420.5" y="1754" width="141" height="48"/><text x="3491" y="1784">world-wide web</text></g>
<g id="b54" class="b"><rect x="3398" y="1828" width="186" height="48"/><text x="3491" y="1858">semantic discontinuity</text></g>
<g id="b55" class="b"><rect x="3879.5" y="1902" width="115" height="48"/><text x="3937" y="1932">discontinuity</text></g>
<g id="b56" class="b"><rect x="3887.5" y="2030" width="99" height="48"/><text x="3937" y="2060">foundation</text></g>
<g id="b57" class="b"><rect x="3406" y="2103" width="170" height="48"/><text x="3491" y="2133">semantic foundation</text></g>
<g id="b58" class="b"><rect x="3875.5" y="2217" width="123" height="48"/><text x="3937" y="2247">semantic web</text></g>
<g id="b59" class="b"><rect x="4519" y="1309" width="72" height="48"/><text x="4555" y="1339">goal</text></g>
<g id="b60" class="b"><rect x="4238" y="1405" width="130" height="48"/><text x="4303" y="1435">web languages</text></g>
<g id="b61" class="b"><rect x="4507.5" y="1478" width="95" height="48"/><text x="4555" y="1508">languages</text></g>
<g id="b62" class="b"><rect x="4260" y="1750" width="86" height="48"/><text x="4303" y="1780">web goal</text></g>
</g>
<g id="footer">
<text x="2303" y="2804">Model:</text>
<text x="2303" y="2824">(Unknown)</text>
<text x="2303" y="2867">Namespaces:</text>
<text x="2303" y="2887">rdfs: http://www.w3.org/2000/01/rdf-schema#</text>
<text x="2303" y="2907">local: http://local/local.owl#</text>
<text x="2303" y="2927">vn.role: http://local/verbnet_roles.owl#</text>
<text x="2303" y="2946">cso: https://cso.kmi.open.ac.uk/topics/</text>
<text x="2303" y="2966">rdf: http://www.w3.org/1999/02/22-rdf-syntax-ns#</text>
<text x="2303" y="2986">owl: http://www.w3.org/2002/07/owl#</text>
</g>
</svg>
